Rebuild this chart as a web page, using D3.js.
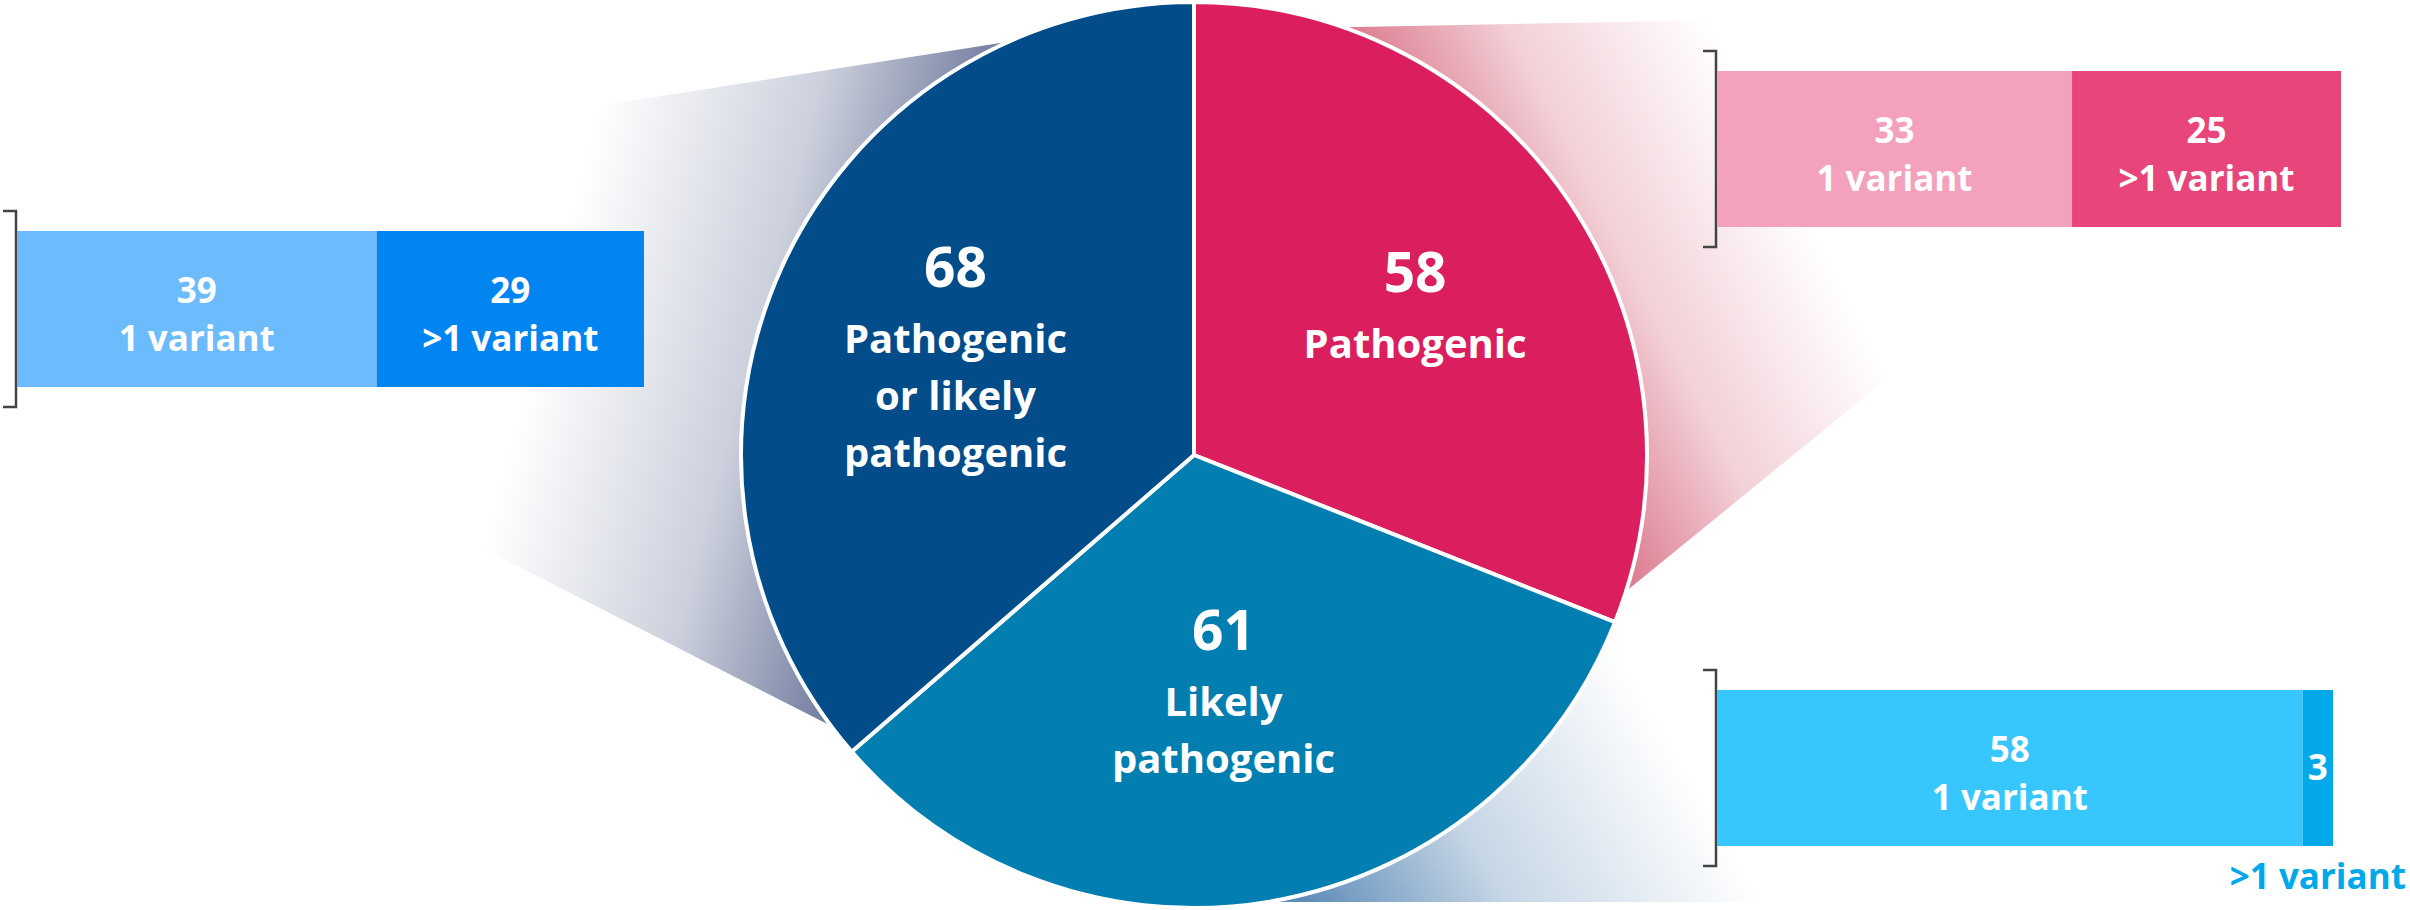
<!DOCTYPE html>
<html>
<head>
<meta charset="utf-8">
<script src="https://cdn.jsdelivr.net/npm/d3@7"></script>
<style>
  html, body { margin: 0; padding: 0; background: #ffffff; }
  svg { display: block; font-family: "Open Sans", "Noto Sans", sans-serif; font-weight: 700; }
</style>
</head>
<body>
<svg id="chart" width="2410" height="910"></svg>
<script>
// ---- data ----
const pieCategories = ["Pathogenic", "Likely pathogenic", "Pathogenic or likely pathogenic"];
const pieValues = [58, 61, 68];
const pieLabelLines = [["Pathogenic"], ["Likely", "pathogenic"], ["Pathogenic", "or likely", "pathogenic"]];

const variantLabels = ["1 variant", ">1 variant"];
const pathogenicSplit = [33, 25];
const likelySplit = [58, 3];
const eitherSplit = [39, 29];

// ---- layout ----
const W = 2410, H = 910;
const cx = 1194, cy = 455, R = 453;
const sliceColors = ["#DA1E5E", "#027FB0", "#024C89"];
const labelNudge = [[6, -4], [-14, -20], [-2, 10]];

const svg = d3.select("#chart").attr("viewBox", `0 0 ${W} ${H}`);
const defs = svg.append("defs");

const rad = a => a * Math.PI / 180;
const edge = (deg, r = R) => [cx + r * Math.sin(rad(deg)), cy - r * Math.cos(rad(deg))];

// fading "zoom" funnels that connect each slice to its breakdown bar
const funnels = [
  (() => {
    const A = edge(335.8), B = edge(233.3);
    const A2 = [16, A[1] + (A[0] - 16) * 65 / 416];
    const B2 = [16, B[1] - (B[0] - 16) * 157 / 308];
    const m = [(A[0] + B[0]) / 2, (A[1] + B[1]) / 2];
    return { id: "fLeft", pts: [A, A2, B2, B], g0: m, g1: [m[0] - 0.968 * 380, m[1] - 0.252 * 380], color: "#4b5985", op: 0.8 };
  })(),
  (() => {
    const A = edge(19.2), B = edge(107.5);
    const A2 = [1900, A[1] - (1900 - A[0]) * 7 / 372];
    const B2 = [B[0] + 1.5 * 221, B[1] - 1.5 * 180];
    const m = [(A[0] + B[0]) / 2, (A[1] + B[1]) / 2];
    return { id: "fPink", pts: [A, A2, B2, B], g0: m, g1: [m[0] + 0.892 * 330, m[1] - 0.451 * 330], color: "#c8304f", op: 0.65 };
  })(),
  (() => {
    const A = edge(112.7);
    const A2 = [1900, A[1] + (1900 - A[0]) * 39 / 99];
    const B = [1250, 902], B2 = [1900, 902];
    const g0 = [1300, 902];
    return { id: "fBottom", pts: [A, A2, B2, B], g0: g0, g1: [g0[0] + 0.866 * 400, g0[1] - 0.5 * 400], color: "#2f6aa3", op: 0.78 };
  })()
];

funnels.forEach(f => {
  const lg = defs.append("linearGradient").attr("id", f.id).attr("gradientUnits", "userSpaceOnUse")
    .attr("x1", f.g0[0]).attr("y1", f.g0[1]).attr("x2", f.g1[0]).attr("y2", f.g1[1]);
  lg.append("stop").attr("offset", 0).attr("stop-color", f.color).attr("stop-opacity", f.op);
  lg.append("stop").attr("offset", 0.45).attr("stop-color", f.color).attr("stop-opacity", f.op * 0.35);
  lg.append("stop").attr("offset", 1).attr("stop-color", f.color).attr("stop-opacity", 0);
});

svg.append("g").selectAll("path").data(funnels).join("path")
  .attr("d", f => d3.line()(f.pts) + "Z")
  .attr("fill", f => `url(#${f.id})`);

// ---- pie ----
const pieData = pieCategories.map((c, i) => ({ category: c, value: pieValues[i], lines: pieLabelLines[i], color: sliceColors[i], nudge: labelNudge[i] }));
const pie = d3.pie().sort(null).value(d => d.value).startAngle(0).endAngle(2 * Math.PI);
const arcs = pie(pieData);
const arc = d3.arc().innerRadius(0).outerRadius(R);
const labelArc = d3.arc().innerRadius(260).outerRadius(260);

const pieG = svg.append("g").attr("transform", `translate(${cx},${cy})`);
pieG.selectAll("path").data(arcs).join("path")
  .attr("d", arc)
  .attr("fill", d => d.data.color)
  .attr("stroke", "#ffffff")
  .attr("stroke-width", 4)
  .attr("stroke-linejoin", "round");

const numSize = 55, lineSize = 40, numGap = 66, lineGap = 57;
pieG.selectAll("g.label").data(arcs).join("g").attr("class", "label")
  .each(function (d) {
    const [lx, ly] = labelArc.centroid(d);
    const n = d.data.lines.length;
    // block spans from number cap-top to last text baseline
    const blockH = 40 + numGap + (n - 1) * lineGap;
    const top = ly - blockH / 2 + d.data.nudge[1];
    const x = lx + d.data.nudge[0];
    const g = d3.select(this);
    g.append("text").attr("x", x).attr("y", top + 40).attr("text-anchor", "middle")
      .attr("fill", "#fff").attr("font-size", numSize).text(d.data.value);
    d.data.lines.forEach((t, i) => {
      g.append("text").attr("x", x).attr("y", top + 40 + numGap + i * lineGap).attr("text-anchor", "middle")
        .attr("fill", "#fff").attr("font-size", lineSize).text(t);
    });
  });

// ---- breakdown bars ----
const barH = 156;
const bars = [
  { values: pathogenicSplit, x: 1717, y: 71, w: 624, colors: ["#F3A1BC", "#E8457B"] },
  { values: likelySplit, x: 1717, y: 690, w: 616, colors: ["#38C6FE", "#03A8E9"] },
  { values: eitherSplit, x: 17, y: 231, w: 627, colors: ["#6BBBFD", "#0385F1"] }
];

bars.forEach(b => {
  const xs = d3.scaleLinear().domain([0, d3.sum(b.values)]).range([b.x, b.x + b.w]);
  const cum = d3.cumsum(b.values);
  const segs = b.values.map((v, i) => ({ v, i, x0: xs(cum[i] - v), x1: xs(cum[i]), label: variantLabels[i], color: b.colors[i] }));
  const g = svg.append("g");

  // bracket
  const bx = b.x - 1;
  g.append("path")
    .attr("d", `M${bx - 13},${b.y - 20}H${bx}V${b.y + barH + 20}H${bx - 13}`)
    .attr("fill", "none").attr("stroke", "#444444").attr("stroke-width", 2.5);

  g.selectAll("rect").data(segs).join("rect")
    .attr("x", d => d.x0).attr("y", b.y)
    .attr("width", d => d.x1 - d.x0).attr("height", barH)
    .attr("fill", d => d.color);

  const mid = b.y + barH / 2;
  segs.forEach(d => {
    const tx = (d.x0 + d.x1) / 2;
    if (d.x1 - d.x0 > 120) {
      g.append("text").attr("x", tx).attr("y", mid - 6).attr("text-anchor", "middle")
        .attr("fill", "#fff").attr("font-size", 35).text(d.v);
      g.append("text").attr("x", tx).attr("y", mid + 42).attr("text-anchor", "middle")
        .attr("fill", "#fff").attr("font-size", 35).text(d.label);
    } else {
      g.append("text").attr("x", tx).attr("y", mid + 12).attr("text-anchor", "middle")
        .attr("fill", "#fff").attr("font-size", 35).text(d.v);
      g.append("text").attr("x", tx).attr("y", b.y + barH + 43).attr("text-anchor", "middle")
        .attr("fill", d.color).attr("font-size", 35).text(d.label);
    }
  });
});
</script>
</body>
</html>
